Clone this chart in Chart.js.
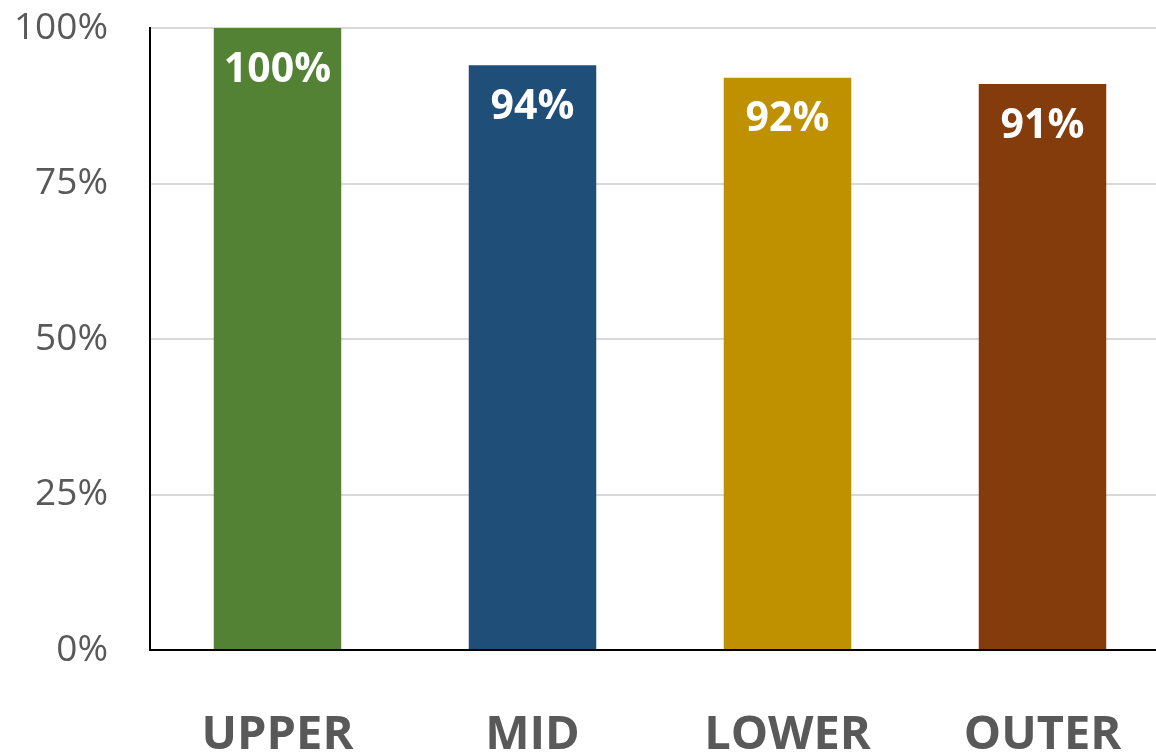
<!DOCTYPE html>
<html>
<head>
<meta charset="utf-8">
<script src="https://cdn.jsdelivr.net/npm/chart.js@4"></script>
<style>
  html, body { margin: 0; padding: 0; background: #fff; }
  #frame { width: 1156px; height: 752px; overflow: hidden; position: relative; }
  #wrap { width: 1170px; height: 752px; position: absolute; left: 0; top: 0; }
</style>
</head>
<body>
<div id="frame"><div id="wrap"><canvas id="chart"></canvas></div></div>
<script>
// categorías y valores
const zones = ["UPPER", "MID", "LOWER", "OUTER"];
const rates = [100, 94, 92, 91];
const barColors = ["#548235", "#1F4E79", "#BF9000", "#843C0C"];
const yTicks = [0, 25, 50, 75, 100];

// etiquetas blancas dentro de la barra
const valueLabels = {
  id: "valueLabels",
  afterDatasetsDraw(chart) {
    const ctx = chart.ctx;
    const meta = chart.getDatasetMeta(0);
    ctx.save();
    ctx.fillStyle = "#fff";
    ctx.font = "bold 41px 'Open Sans'";
    ctx.textAlign = "center";
    ctx.textBaseline = "middle";
    meta.data.forEach((bar, i) => {
      ctx.fillText(rates[i] + "%", bar.x, bar.y + 42);
    });
    ctx.restore();
  }
};

new Chart(document.getElementById("chart"), {
  type: "bar",
  data: {
    labels: zones,
    datasets: [{
      data: rates,
      backgroundColor: barColors,
      barPercentage: 0.5,
      categoryPercentage: 1
    }]
  },
  options: {
    responsive: true,
    maintainAspectRatio: false,
    animation: false,
    layout: { padding: { top: 28, right: 0, left: 0, bottom: 0 } },
    plugins: { legend: { display: false }, tooltip: { enabled: false } },
    scales: {
      x: {
        grid: { display: false, drawTicks: false },
        border: { color: "#000", width: 2 },
        ticks: {
          color: "#595959",
          padding: 57,
          font: { family: "'Open Sans'", size: 47, weight: "bold" }
        },
        afterFit(scale) {
          scale.height = 102;
          scale.paddingLeft = 0;
          scale.paddingRight = 0;
        }
      },
      y: {
        min: 0,
        max: 100,
        afterBuildTicks(scale) { scale.ticks = yTicks.map(v => ({ value: v })); },
        grid: { color: "#d9d9d9", lineWidth: 2, drawTicks: false },
        border: { color: "#000", width: 2 },
        ticks: {
          color: "#595959",
          padding: 42,
          font: { family: "'Open Sans'", size: 37 },
          callback: v => v + "%"
        },
        afterFit(scale) {
          scale.width = 150;
          scale.paddingTop = 0;
          scale.paddingBottom = 0;
        }
      }
    }
  },
  plugins: [valueLabels]
});
</script>
</body>
</html>
